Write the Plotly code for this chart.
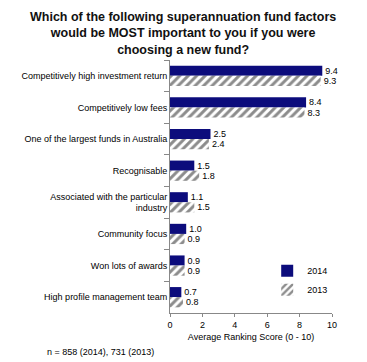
import plotly.graph_objects as go

categories = [
    "Competitively high investment return",
    "Competitively low fees",
    "One of the largest funds in Australia",
    "Recognisable",
    "Associated with the particular<br>industry",
    "Community focus",
    "Won lots of awards",
    "High profile management team",
]
values_2014 = [9.4, 8.4, 2.5, 1.5, 1.1, 1.0, 0.9, 0.7]
values_2013 = [9.3, 8.3, 2.4, 1.8, 1.5, 0.9, 0.9, 0.8]
x_ticks = [0, 2, 4, 6, 8, 10]

font = "Liberation Sans, Arial, sans-serif"

fig = go.Figure()
fig.add_trace(go.Bar(
    y=categories, x=values_2014, orientation="h", name="2014",
    marker=dict(color="#0c0c7c", line=dict(width=0)),
    text=[f"{v:.1f}" for v in values_2014], textposition="outside",
    textfont=dict(size=9, color="#000000", family=font), cliponaxis=False,
))
fig.add_trace(go.Bar(
    y=categories, x=values_2013, orientation="h", name="2013",
    marker=dict(color="white", line=dict(width=0),
                pattern=dict(shape="/", fgcolor="#1a1a1a", bgcolor="white", size=6, solidity=0.5)),
    text=[f"{v:.1f}" for v in values_2013], textposition="outside",
    textfont=dict(size=9, color="#000000", family=font), cliponaxis=False,
))

# page has an 8px body margin, so the figure is 8px smaller than the window
fig.update_layout(
    width=359, height=354,
    margin=dict(l=162, r=35, t=52, b=49, autoexpand=False),
    paper_bgcolor="white", plot_bgcolor="white",
    barmode="group", bargap=0.36, bargroupgap=0,
    font=dict(family=font, size=9, color="#000000"),
    showlegend=True,
    legend=dict(x=0.6, y=0.224, xanchor="left", yanchor="top",
                font=dict(size=9, family=font), bgcolor="rgba(0,0,0,0)",
                itemwidth=30),
    xaxis=dict(range=[0, 10], tickvals=x_ticks, showgrid=False, zeroline=False,
               showline=True, linecolor="#888888", ticks="outside", ticklen=3,
               tickcolor="#888888", tickfont=dict(size=9), automargin=False,
               title=dict(text="Average Ranking Score (0 - 10)", font=dict(size=9), standoff=4)),
    yaxis=dict(autorange="reversed", showgrid=False, zeroline=False,
               showline=True, linecolor="#888888", ticks="outside", ticklen=5,
               tickcolor="#888888", tickson="boundaries", tickfont=dict(size=9),
               automargin=False),
    annotations=[
        dict(text="<b>Which of the following superannuation fund factors<br>would be MOST important to you if you were<br>choosing a new fund?</b>",
             xref="paper", yref="paper", x=0.08, y=1.207, xanchor="center", yanchor="top",
             showarrow=False, font=dict(size=12.5, family=font, color="#111111")),
        dict(text="n = 858 (2014), 731 (2013)", xref="paper", yref="paper",
             x=-0.772, y=-0.154, xanchor="left", yanchor="middle", showarrow=False,
             font=dict(size=9, family=font)),
    ],
)

fig.write_html("out.html")
